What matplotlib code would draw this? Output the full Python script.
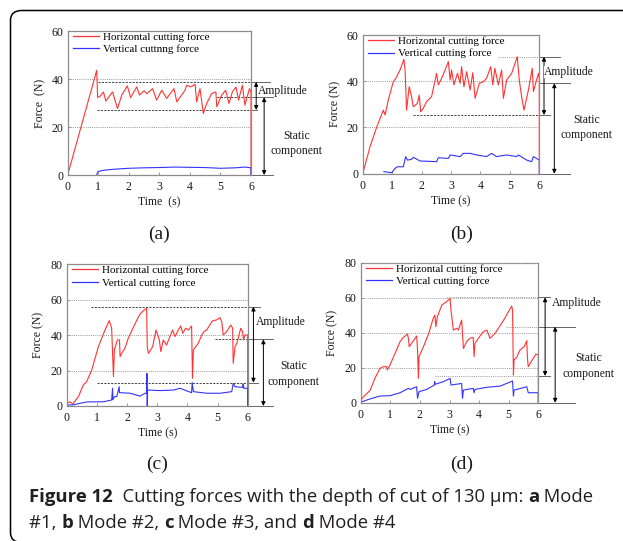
import matplotlib
matplotlib.use("Agg")
import matplotlib.pyplot as plt
from matplotlib.patches import FancyBboxPatch
from matplotlib.lines import Line2D

# ---------------- data ----------------
# (a) Mode #1
ta_h = [0, 0.95, 0.98, 1.06, 1.17, 1.25, 1.39, 1.47, 1.63, 1.77, 1.95, 2.06, 2.26, 2.35, 2.5, 2.59, 2.78, 2.91,
        3.08, 3.24, 3.48, 3.57, 3.84, 3.89, 4.03, 4.17, 4.22, 4.33, 4.44, 4.55, 4.71, 4.85, 4.88, 5.04, 5.17,
        5.28, 5.39, 5.51, 5.59, 5.72, 5.8, 5.95, 6.0, 6.0]
fa_h = [0, 43.6, 32.3, 32.8, 34.6, 30.8, 33.3, 34.6, 27.7, 33.3, 37.1, 32.3, 36.7, 33.3, 35.1, 33.9, 36.0, 31.2,
        35.3, 31.9, 36.0, 30.5, 35.3, 37.4, 36.7, 37.8, 30.5, 36.0, 25.6, 29.8, 33.9, 34.6, 28.4, 33.3, 35.3,
        29.8, 34.6, 36.7, 31.2, 37.4, 29.1, 36.0, 34.6, 0]
ta_v = [0.95, 1.0, 1.2, 1.5, 2.0, 2.5, 3.0, 3.5, 4.0, 4.5, 5.0, 5.5, 5.8, 6.0, 6.0]
fa_v = [0.3, 1.5, 2.0, 2.4, 2.8, 3.0, 3.1, 3.3, 3.2, 3.1, 2.8, 3.0, 3.3, 3.0, 0]

# (b) Mode #2
tb_h = [0, 0.25, 0.48, 0.7, 0.76, 0.87, 1.04, 1.13, 1.18, 1.27, 1.4, 1.44, 1.49, 1.58, 1.66, 1.72, 1.86, 1.92,
        1.97, 2.06, 2.17, 2.34, 2.51, 2.57, 2.68, 2.8, 2.91, 2.97, 3.02, 3.1, 3.22, 3.31, 3.36, 3.44, 3.53, 3.65,
        3.74, 3.82, 3.96, 4.1, 4.21, 4.35, 4.42, 4.49, 4.61, 4.72, 4.78, 4.89, 5.06, 5.25, 5.32, 5.4, 5.48, 5.63,
        5.76, 5.8, 5.89, 5.97, 6.0, 6.0]
fb_h = [0, 11.7, 20.3, 27.5, 25.4, 31.9, 39.8, 41.3, 42.7, 44.9, 49.5, 44.9, 27.5, 37.6, 33.3, 29.0, 30.4, 34.0,
        26.8, 28.3, 31.2, 33.3, 43.4, 38.4, 41.2, 44.9, 48.5, 40.5, 44.9, 38.4, 43.4, 39.1, 46.3, 37.6, 44.1, 36.2,
        43.7, 32.6, 39.1, 39.8, 41.3, 46.3, 38.4, 45.6, 38.4, 44.9, 32.6, 40.5, 43.4, 50.6, 40.5, 33.3, 27.5, 36.2,
        45.6, 35.5, 39.8, 43.4, 41.2, 0]
tb_v = [0.72, 0.98, 1.1, 1.18, 1.38, 1.46, 1.52, 1.66, 1.72, 1.95, 2.51, 2.57, 2.91, 2.97, 3.31, 3.42, 3.65, 3.87,
        4.21, 4.38, 4.55, 4.89, 5.23, 5.29, 5.57, 5.74, 5.8, 6.0, 6.0]
fb_v = [0.9, 0.4, 2.3, 3.0, 3.0, 7.4, 5.9, 6.2, 7.1, 5.5, 5.2, 6.9, 6.6, 8.1, 7.4, 8.8, 8.8, 8.1,
        7.4, 8.8, 7.4, 8.1, 7.4, 8.1, 5.9, 5.2, 7.4, 5.9, 0]

# (c) Mode #3
tc_h = [0, 0.11, 0.2, 0.39, 0.55, 0.66, 0.83, 1.05, 1.27, 1.41, 1.49, 1.55, 1.58, 1.68, 1.75, 1.77, 1.82, 1.93,
        2.04, 2.21, 2.38, 2.45, 2.6, 2.65, 2.67, 2.71, 2.85, 2.96, 3.07, 3.12, 3.2, 3.31, 3.51, 3.59, 3.7, 3.78,
        3.85, 3.94, 4.03, 4.14, 4.17, 4.2, 4.36, 4.48, 4.55, 4.64, 4.81, 4.86, 4.97, 5.08, 5.14, 5.19, 5.3, 5.44,
        5.5, 5.52, 5.58, 5.64, 5.77, 5.83, 5.86, 5.91, 6.0, 6.0]
fc_h = [1.5, 2.4, 1.1, 5.3, 11.9, 13.7, 20.3, 33.5, 42.9, 48.2, 43.9, 16.6, 31.6, 37.3, 37.3, 27.9, 29.7, 32.6,
        38.2, 44.4, 50.4, 52.3, 54.6, 55.2, 33.5, 29.7, 33.5, 42.9, 37.3, 30.7, 37.3, 34.4, 42.9, 39.2, 42.9, 45.2,
        41.0, 43.9, 42.9, 45.2, 15.6, 31.6, 35.4, 40.1, 42.0, 42.9, 47.6, 48.2, 48.6, 49.9, 47.6, 40.1, 42.0, 45.7,
        43.9, 24.1, 33.5, 35.4, 43.9, 42.0, 37.3, 40.1, 40.1, 0]
tc_v = [0, 0.2, 0.55, 0.66, 1.22, 1.49, 1.52, 1.53, 1.58, 1.66, 1.74, 1.75, 1.8, 2.1, 2.43, 2.6, 2.65, 2.66,
        2.67, 2.68, 2.71, 3.09, 3.54, 3.76, 4.14, 4.16, 4.2, 4.64, 5.08, 5.47, 5.52, 5.58, 5.83, 5.85, 5.87, 6.0, 6.0]
fc_v = [0.6, 0.6, 1.9, 2.3, 2.4, 3.4, 10.0, 3.5, 5.3, 5.3, 10.9, 7.5, 7.5, 7.2, 5.6, 7.2, 7.2, 18.4,
        0, 9.0, 9.0, 8.7, 9.0, 10.0, 7.5, 13.2, 8.1, 7.2, 7.2, 8.1, 12.8, 10.9, 10.5, 12.4, 10.0, 10.0, 0]

# (d) Mode #4
td_h = [0, 0.09, 0.2, 0.32, 0.48, 0.65, 0.77, 0.88, 0.9, 0.99, 1.16, 1.33, 1.44, 1.58, 1.61, 1.64, 1.78, 1.89,
        1.92, 1.95, 1.97, 2.12, 2.29, 2.45, 2.51, 2.54, 2.59, 2.74, 2.9, 3.02, 3.05, 3.13, 3.24, 3.3, 3.41, 3.44,
        3.47, 3.58, 3.69, 3.8, 3.83, 3.86, 4.03, 4.14, 4.26, 4.37, 4.54, 4.65, 4.82, 4.99, 5.1, 5.13, 5.16, 5.18,
        5.27, 5.38, 5.52, 5.61, 5.63, 5.66, 5.83, 5.92, 6.0, 6.0]
fd_h = [1.1, 3.4, 5.0, 7.2, 13.9, 19.6, 20.6, 20.6, 18.7, 21.5, 28.2, 34.9, 37.3, 39.2, 36.8, 32.0, 35.4, 38.1,
        30.1, 13.9, 26.3, 32.0, 39.2, 48.2, 50.1, 43.4, 49.1, 55.8, 57.7, 59.6, 53.0, 41.5, 42.5, 41.5, 47.2, 39.6,
        31.0, 34.9, 36.8, 37.3, 26.3, 33.9, 38.1, 40.6, 41.5, 36.8, 39.6, 42.5, 46.9, 52.0, 55.2, 53.0, 15.8, 24.4,
        25.9, 30.1, 32.0, 35.4, 26.3, 20.6, 25.3, 27.8, 27.2, 0]
td_v = [0, 0.2, 0.48, 0.65, 0.99, 1.33, 1.61, 1.67, 1.89, 1.92, 1.97, 2.23, 2.49, 2.5, 2.51, 2.79, 3.02, 3.05,
        3.41, 3.44, 3.47, 3.8, 3.83, 3.86, 4.26, 4.71, 5.13, 5.16, 5.18, 5.61, 5.66, 6.0, 6.0]
fd_v = [0.2, 1.5, 3.0, 3.8, 4.0, 5.7, 8.2, 7.6, 9.1, 2.5, 6.3, 7.6, 10.1, 12.0, 10.5, 12.0, 13.9, 10.1,
        11.0, 2.5, 7.2, 8.2, 5.7, 7.6, 8.8, 9.5, 12.4, 3.8, 7.2, 9.1, 5.7, 5.7, 0]

# amplitude / static levels: [top, bottom, static]
levels_a = [38.75, 27.1, 32.4]
levels_b = [50.6, 25.4, 39.1]
levels_c = [56.1, 13.2, 37.6]
levels_d = [60.2, 15.3, 43.4]

labels_a = ["Horizontal cutting force", "Vertical cuttnng force"]
labels_bcd = ["Horizontal cutting force", "Vertical cutting force"]
panel_tags = ["(a)", "(b)", "(c)", "(d)"]

# ---------------- figure ----------------
W, H = 623, 541
fig = plt.figure(figsize=(W / 100, H / 100), dpi=100)
SERIF = ["Liberation Serif", "DejaVu Serif"]
RED = "#ff3333"
BLUE = "#3333ff"
GRID = "#9a9a9a"
TXT = "#1a1a1a"


def px_axes(x0, x1, ytop, ybot):
    return fig.add_axes([x0 / W, 1 - ybot / H, (x1 - x0) / W, (ybot - ytop) / H])


def style(ax, ymax, xlabel, ylabel):
    ax.set_xlim(0, 6)
    ax.set_ylim(0, ymax)
    ax.set_xticks(range(0, 7))
    ax.set_yticks(range(0, ymax + 1, 20))
    for s in ax.spines.values():
        s.set_color("#8c8c8c")
        s.set_linewidth(0.9)
    ax.tick_params(direction="in", length=2.5, width=0.6, color="#8c8c8c",
                   labelsize=8.6, labelcolor=TXT)
    ax.tick_params(axis="x", pad=4.5)
    ax.tick_params(axis="y", pad=3.2)
    for lab in ax.get_xticklabels() + ax.get_yticklabels():
        lab.set_family(SERIF)
    for yv in range(20, ymax, 20):
        ax.axhline(yv, color=GRID, lw=0.7, ls=(0, (1, 1.2)), zorder=0)
    ax.set_xlabel(xlabel, family=SERIF, fontsize=8.5, labelpad=2.5, color=TXT)
    ax.set_ylabel(ylabel, family=SERIF, fontsize=8.5, labelpad=4, color=TXT)


def hline(ax, y, x0, x1, style_):
    ls = {"dash": (0, (2.2, 1.3)), "dot": (0, (1, 1.2)), "solid": "-"}[style_]
    col = {"dash": "#444444", "dot": GRID, "solid": "#666666"}[style_]
    ax.plot([x0, x1], [y, y], color=col, lw=0.7, ls=ls, clip_on=False, zorder=1)


def darrow(ax, x, y0, y1):
    ax.annotate("", xy=(x, y1), xytext=(x, y0),
                arrowprops=dict(arrowstyle="<|-|>", color="black", lw=0.7,
                                mutation_scale=6, shrinkA=0, shrinkB=0),
                annotation_clip=False)


def annotate_panel(ax, lev, cfg):
    top, bot, stat = lev
    hline(ax, top, cfg["top_from"], 6.0, cfg["top_style"])
    hline(ax, top, 6.0, cfg["top_to"], "solid")
    hline(ax, bot, cfg["bot_from"], 6.0, cfg["bot_style"])
    hline(ax, bot, 6.0, cfg["bot_to"], "solid")
    hline(ax, stat, cfg["mid_from"], 6.0, cfg["mid_style"])
    hline(ax, stat, 6.0, cfg["mid_to"], "solid")
    hline(ax, 0, 6.0, cfg["mid_to"], "solid")
    darrow(ax, cfg["amp_x"], top, bot)
    darrow(ax, cfg["stat_x"], stat, 0)
    ax.text(cfg["amp_tx"], cfg["amp_ty"], "Amplitude", family=SERIF, fontsize=8.4,
            ha="left", va="center", clip_on=False, color=TXT,
            bbox=dict(fc="white", ec="none", pad=0.2))
    ax.text(cfg["st_tx"], cfg["st_ty"], "Static\ncomponent", family=SERIF, fontsize=8.4,
            ha="center", va="center", clip_on=False, linespacing=1.4, color=TXT)


def legend(ax, labels):
    handles = [Line2D([], [], color=RED, lw=0.9), Line2D([], [], color=BLUE, lw=0.9)]
    ax.legend(handles, labels, loc="upper left", bbox_to_anchor=(0.0, 1.03), frameon=False,
              prop={"family": SERIF, "size": 8}, handlelength=2.3, handletextpad=0.35,
              labelspacing=0.22, borderaxespad=0.2, borderpad=0.3)


# panel (a)
axa = px_axes(67.7, 251, 31, 175)
style(axa, 60, "Time  (s)", "Force  (N)")
axa.plot(ta_h, fa_h, color=RED, lw=0.8)
axa.plot(ta_v, fa_v, color=BLUE, lw=0.8)
legend(axa, labels_a)
annotate_panel(axa, levels_a, dict(top_from=1.0, top_style="dash", top_to=6.62,
                                   bot_from=0.95, bot_style="dash", bot_to=6.2,
                                   mid_from=4.9, mid_style="dash", mid_to=6.72,
                                   amp_x=6.17, stat_x=6.43, amp_tx=6.24, amp_ty=34.9,
                                   st_tx=7.5, st_ty=13.2))

# panel (b)
axb = px_axes(362.7, 539.3, 35, 173.7)
style(axb, 60, "Time (s)", "Force (N)")
axb.plot(tb_h, fb_h, color=RED, lw=0.8)
axb.plot(tb_v, fb_v, color=BLUE, lw=0.8)
legend(axb, labels_bcd)
annotate_panel(axb, levels_b, dict(top_from=4.6, top_style="dot", top_to=6.7,
                                   bot_from=1.7, bot_style="dash", bot_to=6.37,
                                   mid_from=6.0, mid_style="solid", mid_to=7.05,
                                   amp_x=6.16, stat_x=6.51, amp_tx=6.16, amp_ty=44.1,
                                   st_tx=7.61, st_ty=20))

# panel (c)
axc = px_axes(66.7, 247.7, 264.3, 406)
style(axc, 80, "Time (s)", "Force (N)")
axc.plot(tc_h, fc_h, color=RED, lw=0.8)
axc.plot(tc_v, fc_v, color=BLUE, lw=0.8)
legend(axc, labels_bcd)
annotate_panel(axc, levels_c, dict(top_from=0.8, top_style="dash", top_to=6.41,
                                   bot_from=1.0, bot_style="dash", bot_to=6.34,
                                   mid_from=4.9, mid_style="dash", mid_to=6.84,
                                   amp_x=6.19, stat_x=6.52, amp_tx=6.27, amp_ty=47.6,
                                   st_tx=7.51, st_ty=18))

# panel (d)
axd = px_axes(360.7, 538.3, 262.7, 402.7)
style(axd, 80, "Time (s)", "Force (N)")
axd.spines["top"].set_linestyle((0, (1, 1.2)))
axd.plot(td_h, fd_h, color=RED, lw=0.8)
axd.plot(td_v, fd_v, color=BLUE, lw=0.8)
legend(axd, labels_bcd)
annotate_panel(axd, levels_d, dict(top_from=2.9, top_style="dot", top_to=6.51,
                                   bot_from=2.5, bot_style="dot", bot_to=6.4,
                                   mid_from=4.9, mid_style="dot", mid_to=7.24,
                                   amp_x=6.23, stat_x=6.57, amp_tx=6.45, amp_ty=57.1,
                                   st_tx=7.69, st_ty=21.1))

# panel tags
for tag, (px, py) in zip(panel_tags, [(159, 234), (462, 234), (157, 464), (462, 464)]):
    fig.text(px / W, 1 - py / H, tag, family=SERIF, fontsize=14, ha="center", va="center",
             color=TXT)

# frame around the figure (bottom edge sits just outside the picture, only the corner shows)
frame = FancyBboxPatch((10.5 / W, -1.5 / H), (W + 40) / W, (H - 9.0) / H,
                       boxstyle="round,pad=0,rounding_size=0.018", transform=fig.transFigure,
                       fc="none", ec="black", lw=1.1, clip_on=False)
fig.patches.append(frame)

# caption with mixed bold
CAP = ["Open Sans", "DejaVu Sans"]
renderer = fig.canvas.get_renderer()


def rich_line(x_px, y_px, pieces, size):
    x = x_px
    for txt, bold in pieces:
        t = fig.text(x / W, 1 - y_px / H, txt, family=CAP, fontsize=size,
                     fontweight="bold" if bold else "normal", ha="left", va="baseline",
                     color="#231f20")
        bb = t.get_window_extent(renderer)
        x += bb.width


cap_size = 13.3
rich_line(29, 502, [("Figure 12", True), ("  Cutting forces with the depth of cut of 130 μm: ", False),
                    ("a", True), (" Mode", False)], cap_size)
rich_line(29, 528, [("#1, ", False), ("b", True), (" Mode #2, ", False), ("c", True),
                    (" Mode #3, and ", False), ("d", True), (" Mode #4", False)], cap_size)

fig.savefig("out.png", dpi=100)
